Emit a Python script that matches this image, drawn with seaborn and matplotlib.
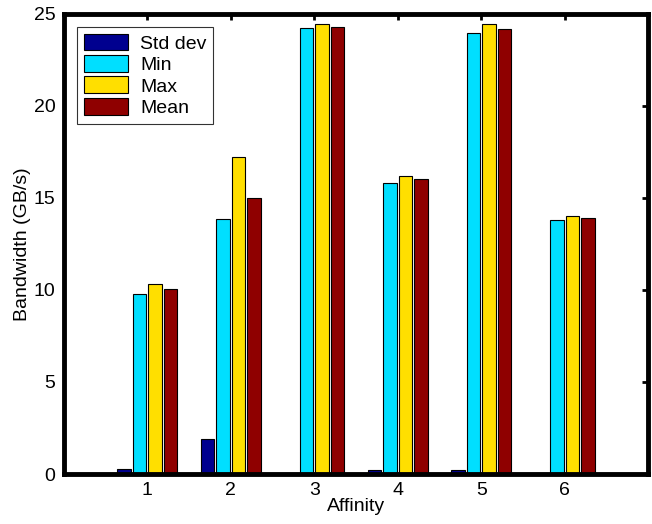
import matplotlib
matplotlib.use("Agg")
import matplotlib.pyplot as plt
import seaborn as sns
import pandas as pd

affinity = [1, 2, 3, 4, 5, 6]
series_names = ["Std dev", "Min", "Max", "Mean"]
std_dev = [0.27, 1.88, 0.05, 0.2, 0.22, 0.05]
min_bw = [9.8, 13.85, 24.24, 15.8, 23.95, 13.8]
max_bw = [10.32, 17.2, 24.44, 16.22, 24.44, 14.02]
mean_bw = [10.05, 15.0, 24.31, 16.03, 24.2, 13.9]
colors = ["#00008F", "#00DFFF", "#FFDF00", "#8F0000"]

rows = []
for name, vals in zip(series_names, [std_dev, min_bw, max_bw, mean_bw]):
    for a, v in zip(affinity, vals):
        rows.append({"Affinity": a, "Bandwidth": v, "Series": name})
df = pd.DataFrame(rows)

sns.set_style("white", {"text.color": "black", "axes.labelcolor": "black",
                        "xtick.color": "black", "ytick.color": "black"})
plt.rcParams['font.family'] = ['Liberation Sans', 'DejaVu Sans']

fig = plt.figure(figsize=(6.52, 5.24), dpi=100)
ax = fig.add_axes([0.098, 0.0954, 0.896, 0.878])

sns.barplot(data=df, x="Affinity", y="Bandwidth", hue="Series",
            hue_order=series_names, palette=colors, native_scale=True,
            width=0.74, gap=0.12, edgecolor="black", linewidth=0.8,
            errorbar=None, ax=ax, saturation=1)

ax.set_xlim(0, 7)
ax.set_ylim(0, 25)
ax.set_xticks(affinity)
ax.set_xticklabels([str(a) for a in affinity])
ax.set_yticks([0, 5, 10, 15, 20, 25])
ax.set_xlabel("Affinity", fontsize=14, labelpad=-1, color="black")
ax.set_ylabel("Bandwidth (GB/s)", fontsize=14, labelpad=2, color="black")
ax.tick_params(axis="both", direction="in", length=4, width=2, labelsize=14,
               top=True, right=True, color="black", labelcolor="black", pad=6)
for s in ax.spines.values():
    s.set_visible(True)
    s.set_linewidth(3.5)
    s.set_color("black")

leg = ax.legend(loc="upper left", bbox_to_anchor=(0.022, 0.972), fontsize=14,
                frameon=True, fancybox=False, edgecolor="black",
                handlelength=2.3, handleheight=0.95, handletextpad=0.6,
                labelspacing=0.12, borderpad=0.35, borderaxespad=0, title=None)
leg.get_frame().set_linewidth(0.8)
for t in leg.get_texts():
    t.set_color("black")

fig.savefig("out.png", dpi=100)
